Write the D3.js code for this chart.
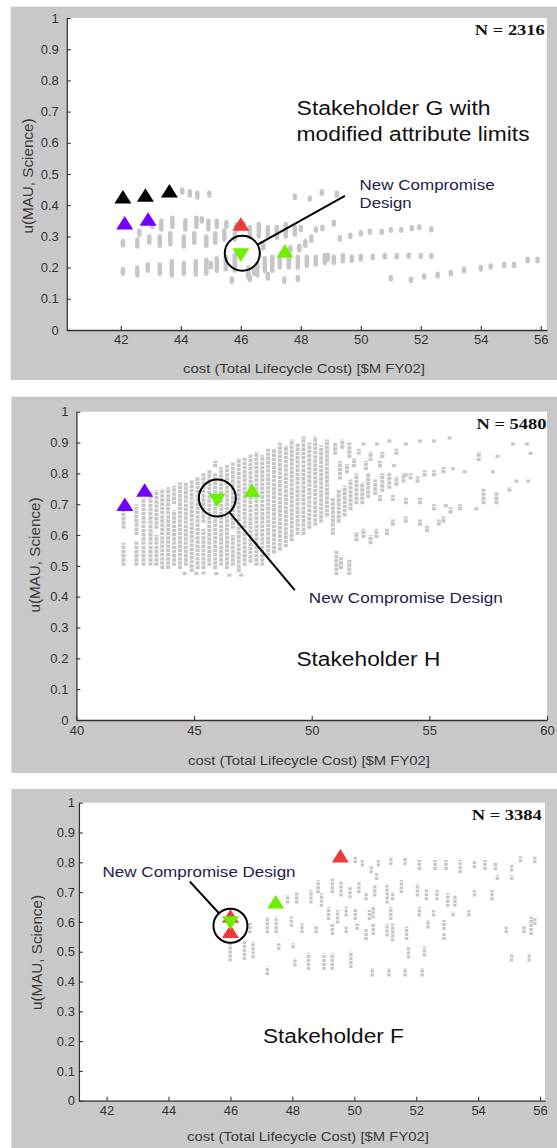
<!DOCTYPE html>
<html>
<head>
<meta charset="utf-8">
<script src="https://cdn.jsdelivr.net/npm/d3@7"></script>
<style>
  html, body { margin: 0; padding: 0; background: #fff; }
  svg { display: block; }
</style>
</head>
<body>
<svg id="chart" width="557" height="1148"></svg>
<script>
// ---------- tick labels ----------
const uTicks = [0, 0.1, 0.2, 0.3, 0.4, 0.5, 0.6, 0.7, 0.8, 0.9, 1];
const costTicksG = [42, 44, 46, 48, 50, 52, 54, 56];
const costTicksH = [40, 45, 50, 55, 60];
const costTicksF = [42, 44, 46, 48, 50, 52, 54, 56];

// ---------- tradespace clouds: [cost, u low, u high] per stack of designs ----------
const cloudG = [
  [44.05,0.44,0.45],[44.3,0.43,0.445],[44.55,0.425,0.44],[44.95,0.43,0.44],
  [47.8,0.423,0.43],[48.3,0.418,0.425],[48.7,0.437,0.445],[49.2,0.43,0.44],
  [42.07,0.272,0.285],[42.55,0.268,0.29],[42.62,0.305,0.318],[42.95,0.28,0.3],[43.05,0.33,0.343],
  [43.3,0.27,0.3],[43.35,0.322,0.35],[43.65,0.275,0.31],[43.72,0.33,0.36],
  [44.1,0.268,0.3],[44.15,0.322,0.352],[44.45,0.28,0.31],[44.52,0.33,0.36],[44.7,0.348,0.358],
  [44.85,0.27,0.3],[44.92,0.322,0.35],[45.15,0.28,0.31],[45.2,0.33,0.35],
  [45.45,0.29,0.32],[45.52,0.332,0.345],[45.8,0.29,0.31],[45.85,0.32,0.34],[46.1,0.33,0.342],
  [46.3,0.3,0.33],[46.6,0.3,0.34],[46.9,0.3,0.33],[47.2,0.295,0.33],[47.5,0.3,0.34],[47.8,0.305,0.33],
  [46.75,0.262,0.275],[47.65,0.255,0.265],[47.95,0.255,0.27],[48.15,0.27,0.285],[48.35,0.285,0.3],
  [48.0,0.32,0.33],[48.5,0.318,0.325],[48.72,0.323,0.33],[49.1,0.338,0.347],
  [49.3,0.29,0.298],[49.65,0.298,0.305],[50.0,0.306,0.313],[50.3,0.312,0.318],[50.7,0.312,0.318],
  [51.0,0.318,0.324],[51.35,0.318,0.324],[51.7,0.323,0.329],[51.95,0.326,0.332],[52.35,0.32,0.326],
  [42.07,0.18,0.195],[42.55,0.175,0.2],[42.9,0.19,0.21],[43.3,0.18,0.21],[43.7,0.175,0.22],
  [44.1,0.18,0.215],[44.5,0.178,0.22],[44.85,0.18,0.225],[45.0,0.2,0.215],[45.2,0.19,0.23],[45.5,0.195,0.235],[45.8,0.19,0.24],
  [46.25,0.17,0.2],[46.45,0.18,0.2],[46.55,0.175,0.21],[46.8,0.19,0.23],[47.05,0.19,0.235],[47.3,0.2,0.235],[47.6,0.2,0.24],
  [47.9,0.2,0.235],[48.2,0.205,0.235],[48.5,0.21,0.235],[48.8,0.215,0.24],[48.9,0.225,0.24],[49.1,0.215,0.235],[49.4,0.22,0.24],
  [49.7,0.222,0.235],[50.0,0.226,0.238],[50.4,0.23,0.238],[50.8,0.232,0.24],[51.2,0.233,0.24],[51.6,0.235,0.242],
  [52.0,0.235,0.24],[52.35,0.234,0.24],
  [45.7,0.155,0.165],[46.3,0.16,0.17],[46.9,0.165,0.18],[47.45,0.155,0.165],[47.9,0.16,0.17],
  [51.0,0.163,0.17],[51.67,0.157,0.164],[52.11,0.168,0.175],[52.56,0.172,0.18],[53.0,0.178,0.186],
  [53.44,0.188,0.196],[54.0,0.194,0.202],[54.33,0.2,0.207],[54.78,0.205,0.212],[55.11,0.205,0.212],
  [55.56,0.22,0.228],[55.89,0.22,0.228]
];

const cloudH = [
  [42.0,0.5,0.575],[42.0,0.62,0.685],[42.55,0.5,0.58],[42.55,0.6,0.7],[42.85,0.5,0.72],
  [43.15,0.5,0.74],[43.4,0.5,0.6],[43.4,0.62,0.745],[43.65,0.49,0.75],[43.9,0.49,0.755],
  [44.15,0.5,0.68],[44.15,0.7,0.76],[44.4,0.49,0.77],[44.65,0.5,0.77],[44.9,0.48,0.78],
  [45.15,0.49,0.79],[45.4,0.49,0.62],[45.4,0.64,0.8],[45.65,0.5,0.81],[45.9,0.49,0.8],[45.9,0.82,0.84],
  [46.15,0.5,0.82],[46.4,0.49,0.83],[46.65,0.5,0.6],[46.65,0.62,0.835],[46.9,0.48,0.85],
  [47.15,0.5,0.85],[47.4,0.51,0.86],[47.65,0.5,0.87],[47.9,0.5,0.86],[48.15,0.53,0.88],
  [48.4,0.54,0.88],[48.65,0.55,0.9],[48.9,0.56,0.89],[49.15,0.58,0.91],[49.4,0.6,0.9],
  [49.65,0.6,0.92],[49.9,0.62,0.9],[50.15,0.63,0.92],[50.4,0.64,0.89],[50.65,0.66,0.91],
  [44.6,0.47,0.48],[45.1,0.47,0.48],[45.4,0.472,0.482],[45.95,0.47,0.48],[46.5,0.465,0.475],[47.0,0.465,0.475],
  [51.05,0.47,0.55],[51.25,0.49,0.53],[51.6,0.47,0.52],[51.9,0.58,0.61],[52.2,0.59,0.62],
  [52.5,0.57,0.6],[52.75,0.59,0.62],[53.2,0.6,0.62],
  [50.9,0.6,0.72],[51.15,0.64,0.75],[51.4,0.66,0.76],[51.65,0.68,0.78],[51.9,0.7,0.8],
  [52.15,0.7,0.77],[52.4,0.72,0.8],[52.7,0.73,0.78],[53.0,0.74,0.8],[53.3,0.75,0.8],
  [53.6,0.76,0.79],[53.9,0.77,0.8],[54.2,0.78,0.8],[54.5,0.77,0.79],[54.8,0.79,0.81],
  [55.2,0.79,0.81],[55.6,0.8,0.82],[56.0,0.81,0.82],
  [52.9,0.71,0.73],[53.45,0.71,0.73],[54.0,0.7,0.72],[54.6,0.7,0.72],[55.2,0.68,0.7],
  [55.7,0.69,0.7],[56.3,0.68,0.7],[53.45,0.63,0.65],[54.0,0.64,0.66],[54.6,0.63,0.65],
  [54.9,0.61,0.63],[55.6,0.64,0.66],[55.4,0.63,0.65],[55.9,0.67,0.69],
  [51.0,0.86,0.9],[51.3,0.88,0.91],[51.6,0.85,0.9],[52.0,0.86,0.88],[52.2,0.89,0.9],
  [52.5,0.84,0.87],[52.77,0.89,0.9],[53.0,0.85,0.87],[53.3,0.9,0.91],[53.6,0.86,0.88],
  [54.0,0.89,0.9],[54.6,0.9,0.91],[55.2,0.9,0.91],[55.86,0.91,0.92],
  [51.2,0.78,0.84],[51.5,0.8,0.83],[51.8,0.82,0.85],[52.3,0.81,0.84],[52.9,0.82,0.84],
  [53.5,0.82,0.83],[54.0,0.79,0.8],
  [56.5,0.8,0.81],[57.1,0.84,0.87],[57.3,0.7,0.75],[57.9,0.85,0.86],[57.85,0.7,0.74],
  [58.4,0.74,0.755],[58.55,0.89,0.9],[58.7,0.77,0.78],[59.15,0.89,0.9],[59.2,0.77,0.78],
  [59.3,0.86,0.87],[57.0,0.68,0.69],[57.7,0.8,0.81]
];

const cloudF = [
  [50.03,0.797,0.819],[50.26,0.786,0.808],[50.78,0.786,0.808],[50.55,0.763,0.786],[51.18,0.791,0.819],
  [51.64,0.791,0.819],[52.1,0.774,0.808],[52.61,0.774,0.808],[52.96,0.774,0.808],[53.42,0.763,0.808],
  [53.88,0.78,0.808],[54.22,0.774,0.808],[54.56,0.774,0.802],[55.08,0.769,0.791],[55.37,0.8,0.82],
  [55.83,0.797,0.819],[54.62,0.741,0.757],[55.08,0.741,0.757],[50.72,0.741,0.763],
  [47.85,0.662,0.69],[48.14,0.662,0.701],[48.6,0.662,0.707],[48.83,0.696,0.741],[48.94,0.651,0.696],
  [49.29,0.696,0.746],[49.57,0.685,0.735],[49.86,0.679,0.718],[50.15,0.696,0.735],[50.38,0.673,0.701],
  [50.66,0.685,0.724],[51.06,0.662,0.724],[51.24,0.673,0.701],[51.52,0.696,0.741],[52.04,0.685,0.729],
  [52.33,0.673,0.712],[52.67,0.673,0.707],[53.02,0.651,0.696],[53.25,0.651,0.69],[53.88,0.685,0.707],
  [54.45,0.673,0.707],
  [49.17,0.606,0.651],[49.46,0.595,0.64],[49.74,0.618,0.651],[50.03,0.606,0.645],[50.49,0.606,0.64],
  [50.61,0.612,0.651],[51.18,0.606,0.651],[52.1,0.618,0.651],[52.56,0.618,0.64],[53.19,0.618,0.634],
  [53.7,0.618,0.64],
  [48.31,0.562,0.595],[48.77,0.562,0.589],[49.29,0.556,0.595],[49.74,0.562,0.584],[50.09,0.573,0.595],
  [50.38,0.539,0.578],[50.61,0.556,0.595],[51.06,0.551,0.595],[51.24,0.534,0.595],[51.69,0.539,0.584],
  [52.38,0.578,0.606],[52.9,0.573,0.606],[52.9,0.539,0.562],
  [45.99,0.467,0.528],[46.45,0.472,0.534],[46.73,0.478,0.534],[47.19,0.562,0.618],[47.19,0.422,0.45],
  [46.63,0.562,0.596],[47.48,0.562,0.618],[47.97,0.584,0.618],[47.56,0.506,0.528],[48.02,0.511,0.528],
  [48.08,0.45,0.478],[48.52,0.439,0.495],[49.02,0.439,0.495],[49.29,0.439,0.495],[49.89,0.445,0.5],
  [50.58,0.417,0.445],[51.12,0.417,0.445],[51.64,0.417,0.445],[52.19,0.417,0.445],
  [51.75,0.478,0.517],[52.27,0.484,0.517],
  [54.91,0.562,0.584],[55.48,0.562,0.589],[55.71,0.556,0.618],[55.83,0.59,0.612],
  [55.08,0.467,0.495],[55.65,0.467,0.495]
];

// ---------- highlighted designs: [cost, u] ----------
const gBlack = [[42.07,0.427],[42.82,0.433],[43.62,0.446]];
const gPurple = [[42.13,0.344],[42.91,0.356]];
const gRed = [[46.0,0.34]];
const gGreen = [[47.47,0.254]];
const gCompromise = [[46.0,0.24]];

const hPurple = [[42.06,0.70],[42.9,0.746]];
const hGreen = [[47.46,0.745]];
const hCompromise = [[45.98,0.713]];

const fRed = [[49.55,0.822],[46.0,0.62],[46.0,0.569]];
const fGreen = [[47.46,0.668]];
const fCompromise = [[46.0,0.596]];

// ---------- styling ----------
const COLORS = { black: "#000000", purple: "#7200ff", red: "#f03a3a", green: "#6cf000", cloud: "#c6c6c6" };
const FRAME = "#c8c8c8";
const SANS = "'Liberation Sans', Arial, sans-serif";
const SERIF = "'Liberation Serif', 'Times New Roman', serif";

const svg = d3.select("#chart");

function triangle(cx, cy, up) {
  const w = 8.5, h = 13.5;
  return up
    ? `M${cx - w},${cy + h / 2}L${cx},${cy - h / 2}L${cx + w},${cy + h / 2}Z`
    : `M${cx - w},${cy - h / 2}L${cx},${cy + h / 2}L${cx + w},${cy - h / 2}Z`;
}

function drawPanel(p) {
  const g = svg.append("g");

  // gray figure frame and white axes area
  g.append("rect").attr("x", p.frame[0]).attr("y", p.frame[1])
    .attr("width", p.frame[2] - p.frame[0]).attr("height", p.frame[3] - p.frame[1])
    .attr("fill", FRAME);
  g.append("rect").attr("x", p.left).attr("y", p.top)
    .attr("width", p.right - p.left).attr("height", p.bottom - p.top)
    .attr("fill", "#fff");

  const x = d3.scaleLinear().domain(p.xDomain).range([p.left, p.right]);
  const y = d3.scaleLinear().domain([0, 1]).range([p.bottom, p.top]);

  // design cloud
  g.append("g").selectAll("line").data(p.cloud).join("line")
    .attr("x1", d => x(d[0])).attr("x2", d => x(d[0]))
    .attr("y1", d => y(d[1])).attr("y2", d => y(d[2]))
    .attr("stroke", COLORS.cloud)
    .attr("stroke-width", p.cloudWidth)
    .attr("stroke-linecap", p.cloudCap)
    .attr("stroke-dasharray", p.cloudDash);

  // axes, ticks pointing inward
  const xAxis = d3.axisBottom(x).tickValues(p.xTicks).tickSize(-4).tickSizeOuter(0)
    .tickPadding(p.xPad).tickFormat(d3.format("d"));
  const yAxis = d3.axisLeft(y).tickValues(uTicks).tickSize(-4).tickSizeOuter(0)
    .tickPadding(p.yPad).tickFormat(d => (d === 0 ? "0" : d === 1 ? "1" : d3.format(".1f")(d)));

  const gx = g.append("g").attr("transform", `translate(0,${p.bottom})`).call(xAxis);
  const gy = g.append("g").attr("transform", `translate(${p.left},0)`).call(yAxis);
  [gx, gy].forEach(a => {
    a.select(".domain").attr("stroke", "#333").attr("stroke-width", 1.3);
    a.selectAll(".tick line").attr("stroke", "#333").attr("stroke-width", 1.1);
    a.selectAll(".tick text").attr("fill", "#333").attr("font-family", SANS).attr("font-size", 13);
  });

  // axis titles
  g.append("text").attr("x", p.xLabel[0]).attr("y", p.xLabel[1])
    .attr("text-anchor", "middle").attr("font-family", SANS).attr("font-size", 13)
    .attr("fill", "#3a3a3a").attr("textLength", 242).attr("lengthAdjust", "spacingAndGlyphs")
    .text("cost (Total Lifecycle Cost) [$M FY02]");
  g.append("text").attr("transform", `translate(${p.yLabel[0]},${p.yLabel[1]}) rotate(-90)`)
    .attr("text-anchor", "middle").attr("dominant-baseline", "central")
    .attr("font-family", SANS).attr("font-size", 14).attr("fill", "#3a3a3a")
    .attr("textLength", 115).attr("lengthAdjust", "spacingAndGlyphs")
    .text("u(MAU, Science)");

  // design count
  g.append("text").attr("x", p.right - p.nInset).attr("y", p.top + 17)
    .attr("text-anchor", "end").attr("font-family", SERIF).attr("font-weight", "bold")
    .attr("font-size", 14.5).attr("fill", "#111")
    .attr("textLength", 70).attr("lengthAdjust", "spacingAndGlyphs")
    .text(p.nText);

  // highlighted designs
  p.markers.forEach(m => {
    g.append("g").selectAll("path").data(m.data).join("path")
      .attr("d", d => triangle(x(d[0]), y(d[1]), m.up))
      .attr("fill", COLORS[m.color]);
  });

  // compromise-design callout
  const c = p.callout;
  const cx = x(c.at[0]), cy = y(c.at[1]);
  const ex = x(c.to[0]), ey = y(c.to[1]);
  const ang = Math.atan2(ey - cy, ex - cx);
  g.append("circle").attr("cx", cx).attr("cy", cy).attr("r", c.r)
    .attr("fill", "none").attr("stroke", "#000").attr("stroke-width", 2);
  g.append("line")
    .attr("x1", cx + c.r * Math.cos(ang)).attr("y1", cy + c.r * Math.sin(ang))
    .attr("x2", ex).attr("y2", ey)
    .attr("stroke", "#000").attr("stroke-width", 2);

  c.lines.forEach(t => {
    g.append("text").attr("x", x(t.at[0])).attr("y", y(t.at[1]))
      .attr("font-family", SANS).attr("font-size", 15).attr("fill", "#1e1b4d")
      .attr("textLength", t.len).attr("lengthAdjust", "spacingAndGlyphs")
      .text(t.text);
  });

  // stakeholder title
  p.title.forEach(t => {
    g.append("text").attr("x", x(t.at[0])).attr("y", y(t.at[1]))
      .attr("font-family", SANS).attr("font-size", 20).attr("fill", "#111")
      .attr("textLength", t.len).attr("lengthAdjust", "spacingAndGlyphs")
      .text(t.text);
  });
}

drawPanel({
  frame: [10.7, 6.7, 557, 380],
  left: 66.8, right: 546.8, top: 18, bottom: 330,
  xDomain: [40.2, 56.2], xTicks: costTicksG, xPad: 5, yPad: 8,
  xLabel: [304, 373], yLabel: [28, 176],
  nText: "N = 2316", nInset: 2,
  cloud: cloudG, cloudWidth: 4.5, cloudCap: "round", cloudDash: null,
  markers: [
    { data: gBlack, color: "black", up: true },
    { data: gPurple, color: "purple", up: true },
    { data: gRed, color: "red", up: true },
    { data: gGreen, color: "green", up: true },
    { data: gCompromise, color: "green", up: false }
  ],
  callout: {
    at: [46.05, 0.246], to: [49.47, 0.43], r: 17.5,
    lines: [
      { text: "New Compromise", at: [49.96, 0.449], len: 135 },
      { text: "Design", at: [49.96, 0.391], len: 52 }
    ]
  },
  title: [
    { text: "Stakeholder G with", at: [47.86, 0.689], len: 194 },
    { text: "modified attribute limits", at: [47.86, 0.607], len: 233 }
  ]
});

drawPanel({
  frame: [11.4, 396.7, 557, 773],
  left: 76.4, right: 547, top: 411.7, bottom: 720,
  xDomain: [40, 60], xTicks: costTicksH, xPad: 6, yPad: 8,
  xLabel: [309, 764.5], yLabel: [34.6, 555],
  nText: "N = 5480", nInset: 0.5,
  cloud: cloudH, cloudWidth: 4, cloudCap: "butt", cloudDash: "3.4,0.8",
  markers: [
    { data: hPurple, color: "purple", up: true },
    { data: hGreen, color: "green", up: true },
    { data: hCompromise, color: "green", up: false }
  ],
  callout: {
    at: [45.99, 0.72], to: [49.28, 0.421], r: 18.5,
    lines: [ { text: "New Compromise Design", at: [49.88, 0.379], len: 194 } ]
  },
  title: [ { text: "Stakeholder H", at: [49.35, 0.175], len: 144 } ]
});

drawPanel({
  frame: [11.4, 789, 557, 1148],
  left: 78.9, right: 545, top: 802.7, bottom: 1100.7,
  xDomain: [41.105, 56.16], xTicks: costTicksF, xPad: 5, yPad: 4,
  xLabel: [308, 1141], yLabel: [37, 952.5],
  nText: "N = 3384", nInset: 3.3,
  cloud: cloudF, cloudWidth: 3.4, cloudCap: "butt", cloudDash: "3,1",
  markers: [
    { data: fRed, color: "red", up: true },
    { data: fGreen, color: "green", up: true },
    { data: fCompromise, color: "green", up: false }
  ],
  callout: {
    at: [46.0, 0.587], to: [44.69, 0.735], r: 17,
    lines: [ { text: "New Compromise Design", at: [41.87, 0.75], len: 193 } ]
  },
  title: [ { text: "Stakeholder F", at: [47.05, 0.194], len: 141 } ]
});
</script>
</body>
</html>
